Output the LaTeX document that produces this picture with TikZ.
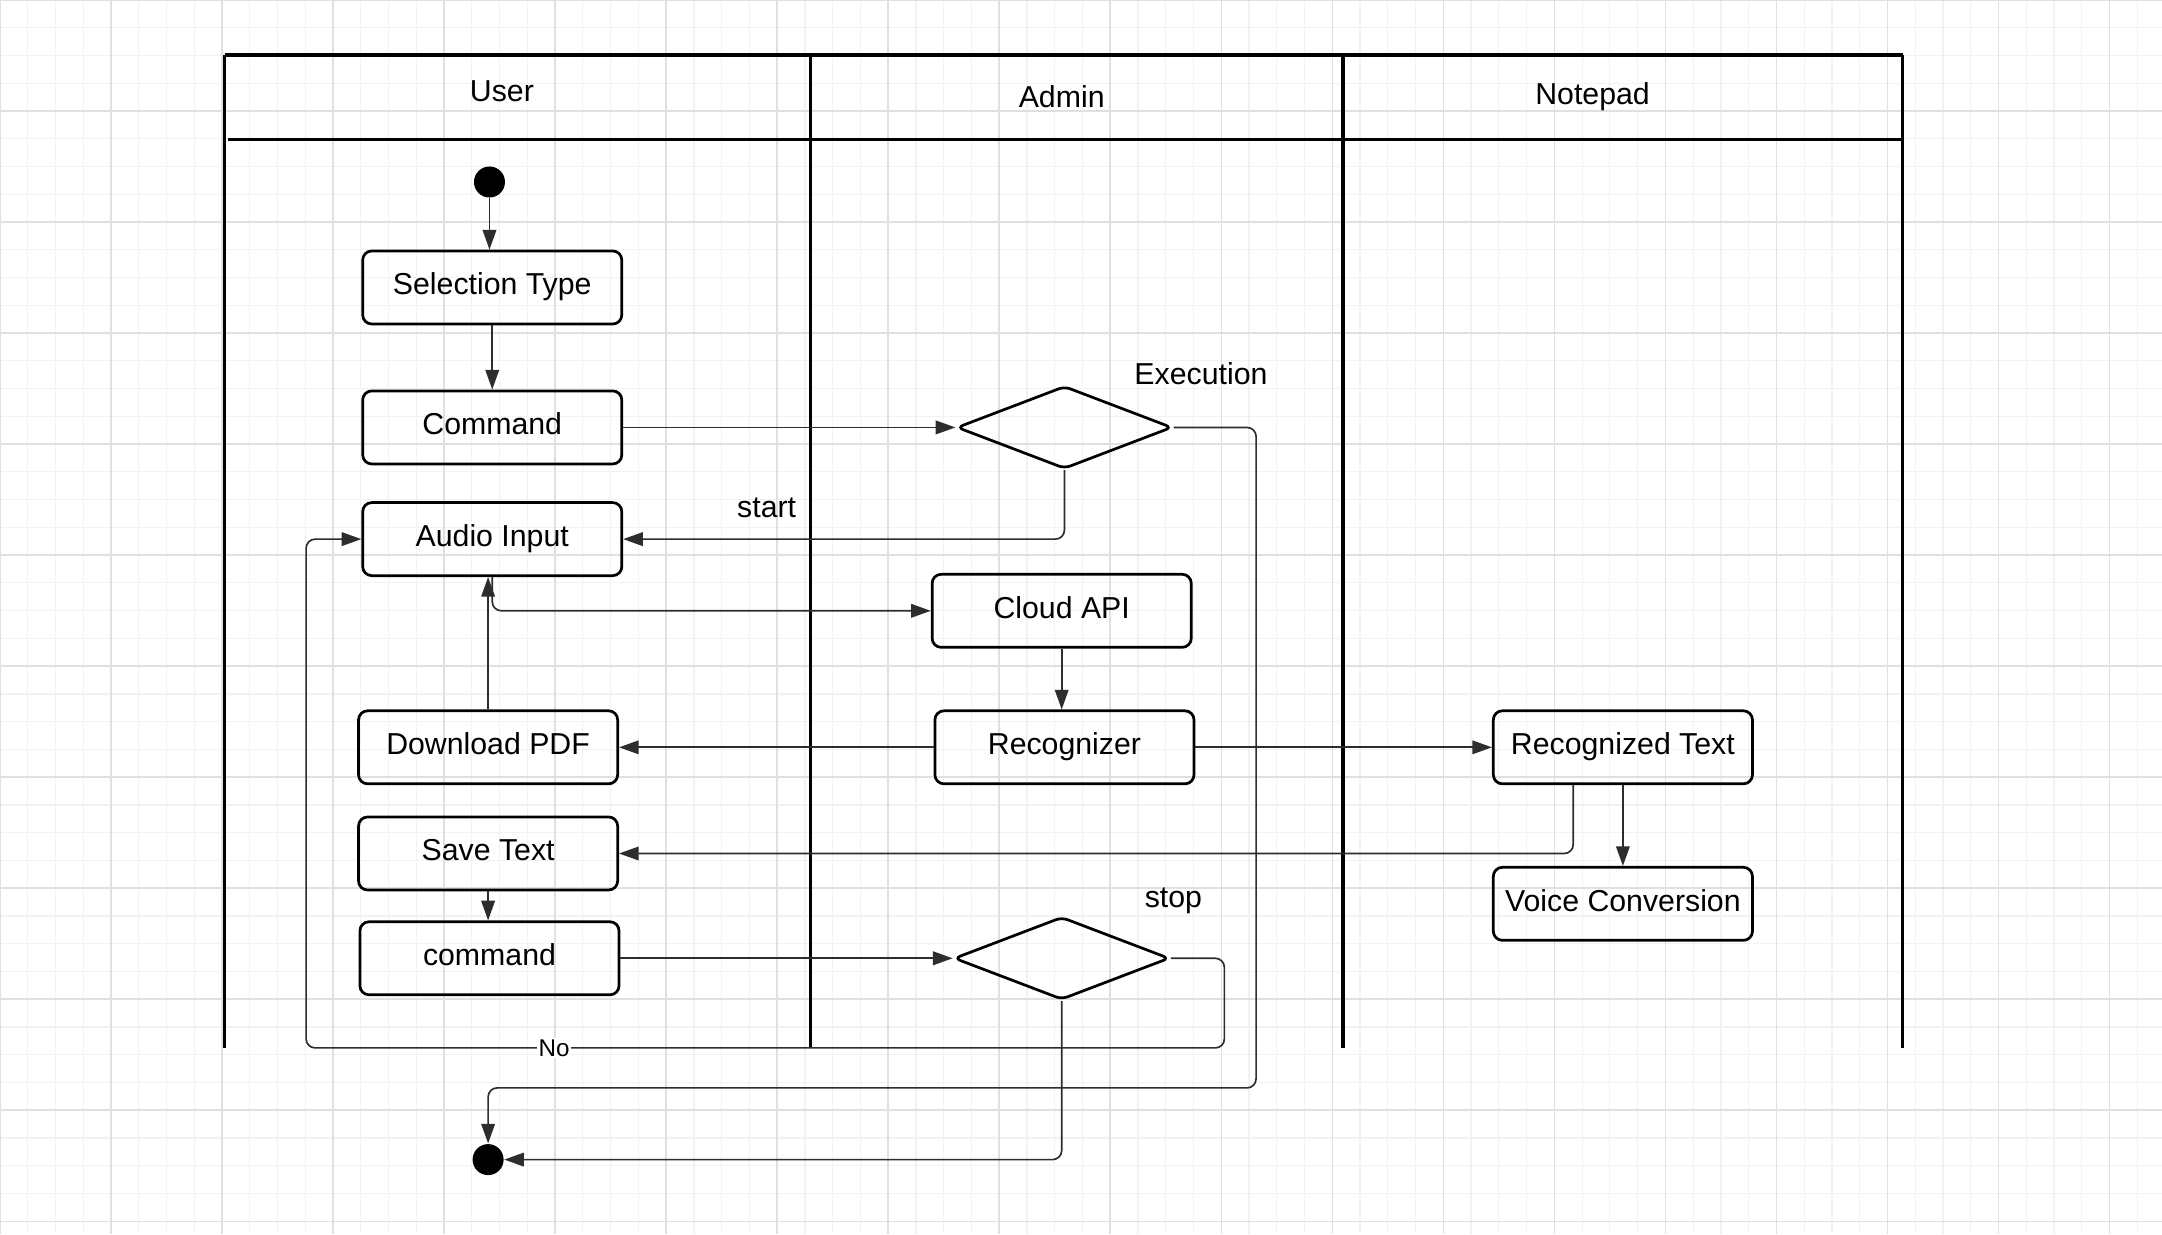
\documentclass[tikz,border=0pt]{standalone}
\usepackage{fontspec}
\setmainfont{Liberation Sans}
\usetikzlibrary{arrows.meta,shapes.geometric,positioning}
\definecolor{gridminor}{RGB}{242,242,242}
\definecolor{gridmajor}{RGB}{224,224,224}
\definecolor{linkgray}{RGB}{45,45,45}
\tikzset{activity/.style={draw, rounded corners=3pt, line width=0.9pt, minimum width=3.008cm, minimum height=0.848cm, inner sep=2pt, text depth=0.45ex},
decision/.style={draw, diamond, rounded corners=2pt, line width=0.9pt, minimum width=2.5cm, minimum height=0.96cm, inner sep=0pt},
bullet/.style={circle, fill=black, minimum size=0.36cm, inner sep=0pt},
flow/.style={draw=linkgray, line width=0.55pt, rounded corners=3pt, -{Triangle[length=6.5pt,width=4.5pt]}},
lane/.style={line width=1.1pt},
guard/.style={inner sep=1pt},
%labels that sit on a line
onlabel/.style={fill=white, inner sep=0.5pt, font=\footnotesize}}

\begin{document}
\begin{tikzpicture}[x=0.016cm, y=-0.016cm]
\useasboundingbox (0,0) rectangle (1568,895);

% background grid
\draw[gridminor, line width=0.4pt, step=0.3222cm] (0,895) grid (1568,0);
\draw[gridmajor, line width=0.5pt, step=1.2888cm] (0,895) grid (1568,0);

% swimlanes
\draw[lane] (163,40) -- (1380,40);
\draw[lane] (165,101) -- (1380,101);
\draw[lane] (163,40) -- (163,760);
\draw[lane] (588,40) -- (588,760);
\draw[lane] (974,40) -- (974,760);
\draw[lane] (1380,40) -- (1380,760);
\node (tuser) at (364,66) {User};
\node (tadmin) at (770,70) {Admin};
\node (tnote) at (1155,70) {Notepad};

% activities
\node[bullet] (init) at (355,132) {};
\node[activity] (seltype) at (357,208.5) {Selection Type};
\node[activity] (cmd) at (357,310) {Command};
\node[activity] (audio) at (357,391) {Audio Input};
\node[activity] (cloud) at (770,443) {Cloud API};
\node[activity] (dpdf) at (354,542) {Download PDF};
\node[activity] (recog) at (772,542) {Recognizer};
\node[activity] (rtext) at (1177,542) {Recognized Text};
\node[activity] (save) at (354,619) {Save Text};
\node[activity] (cmdb) at (355,695) {command};
\node[activity] (voice) at (1177,655.5) {Voice Conversion};
\node[decision] (exec) at (772,310) {};
\node[decision] (stop) at (770,695) {};
\node[bullet] (final) at (354,841) {};

\node[guard] (lexec) at (871,271) {Execution};
\node[guard] (lstart) at (556,368) {start};
\node[guard] (lstop) at (851,653) {stop};

% bends
\coordinate (jexec) at (911,789);
\coordinate (jno) at (888,760);
\coordinate (jleft) at (222,760);
\coordinate (rtap) at (1141,618);

% connectors
\draw[flow] (init) -- (init |- seltype.north);
\draw[flow] (seltype) -- (cmd);
\draw[flow] (cmd) -- (exec.west);
\draw[flow] (exec.south) |- (audio.east);
\draw[flow] (exec.east) -| (jexec) -| (final.north);
\draw[flow] (audio.south) |- (cloud.west);
\draw[flow] (dpdf.north) -- (dpdf.north |- audio.south);
\draw[flow] (cloud) -- (cloud |- recog.north);
\draw[flow] (recog) -- (dpdf);
\draw[flow] (recog) -- (rtext);
\draw[flow] (rtext.south -| rtap) |- (save.east);
\draw[flow] (rtext) -- (voice);
\draw[flow] (save) -- (save |- cmdb.north);
\draw[flow] (cmdb) -- (stop.west);
\draw[flow] (stop.east) -| (jno) -- node[pos=0.73, onlabel] {No} (jleft) |- (audio.west);
\draw[flow] (stop.south) |- (final.east);

\end{tikzpicture}
\end{document}
